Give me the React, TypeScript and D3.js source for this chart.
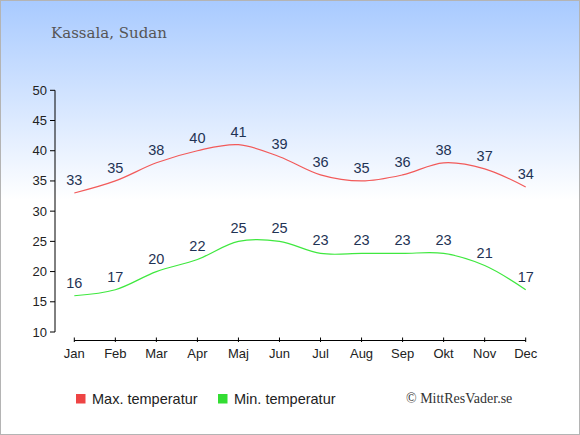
import React from "react";
import * as d3 from "d3";

const title = "Kassala, Sudan";
const months = ["Jan", "Feb", "Mar", "Apr", "Maj", "Jun", "Jul", "Aug", "Sep", "Okt", "Nov", "Dec"];
const maxTemp = [33, 35, 38, 40, 41, 39, 36, 35, 36, 38, 37, 34];
const minTemp = [16, 17, 20, 22, 25, 25, 23, 23, 23, 23, 21, 17];
const yTicks = [10, 15, 20, 25, 30, 35, 40, 45, 50];
const legendLabels = ["Max. temperatur", "Min. temperatur"];
const credit = "© MittResVader.se";

const W = 580;
const H = 435;

export default function App() {
  const x = d3.scalePoint<string>().domain(months).range([74.3, 525.7]);
  const y = d3.scaleLinear().domain([10, 50]).range([332, 90.3]);
  const line = d3
    .line<number>()
    .x((_, i) => x(months[i]) as number)
    .y((d) => y(d))
    .curve(d3.curveCatmullRom.alpha(0.5));

  const series = [
    { vals: maxTemp, color: "#f25a5a", sw: "#ee4444", label: legendLabels[0] },
    { vals: minTemp, color: "#3fe83f", sw: "#33dd33", label: legendLabels[1] },
  ];

  return (
    <svg
      width={W}
      height={H}
      style={{ position: "absolute", left: 0, top: 0 }}
      fontFamily="'Liberation Sans', Arial, sans-serif"
    >
      <defs>
        <linearGradient id="bg" x1="0" y1="0" x2="0" y2="1" gradientUnits="objectBoundingBox">
          <stop offset="0" stopColor="#a8caff" />
          <stop offset={200 / H} stopColor="#ffffff" />
          <stop offset="1" stopColor="#ffffff" />
        </linearGradient>
      </defs>
      <rect x={0} y={0} width={W} height={H} fill="url(#bg)" />
      <rect x={0.5} y={0.5} width={W - 1} height={H - 1} fill="none" stroke="#b4b4b4" />

      <text x={51} y={38} fontFamily="'DejaVu Serif', serif" fontSize={15} fill="#555555">
        {title}
      </text>

      {/* y axis */}
      <line x1={55} x2={55} y1={y(50)} y2={y(10)} stroke="#000" strokeWidth={1} />
      {yTicks.map((t) => (
        <g key={t}>
          <line x1={50} x2={55} y1={y(t)} y2={y(t)} stroke="#000" />
          <text x={47} y={y(t)} dy="0.35em" textAnchor="end" fontSize={13} fill="#222">
            {t}
          </text>
        </g>
      ))}

      {/* x axis */}
      <line x1={x("Jan")} x2={x("Dec")} y1={340.5} y2={340.5} stroke="#000" />
      {months.map((m) => (
        <g key={m}>
          <line x1={x(m)} x2={x(m)} y1={337.5} y2={342} stroke="#000" />
          <text x={x(m)} y={357.5} textAnchor="middle" fontSize={13} fill="#222">
            {m}
          </text>
        </g>
      ))}

      {series.map((s) => (
        <g key={s.label}>
          <path d={line(s.vals) || ""} fill="none" stroke={s.color} strokeWidth={1.2} />
          {s.vals.map((v, i) => (
            <text
              key={i}
              x={x(months[i])}
              y={y(v) - 8}
              textAnchor="middle"
              fontSize={14.5}
              fill="#1f3355"
            >
              {v}
            </text>
          ))}
        </g>
      ))}

      {/* legend */}
      {series.map((s, i) => (
        <g key={s.label} transform={`translate(${76 + i * 142},394)`}>
          <rect x={0} y={0} width={9.5} height={9.5} fill={s.sw} />
          <text x={16} y={9.5} fontSize={14.5} fill="#222">
            {s.label}
          </text>
        </g>
      ))}
      <text x={406} y={403} fontFamily="'Liberation Serif', serif" fontSize={14} fill="#333">
        {credit}
      </text>
    </svg>
  );
}
